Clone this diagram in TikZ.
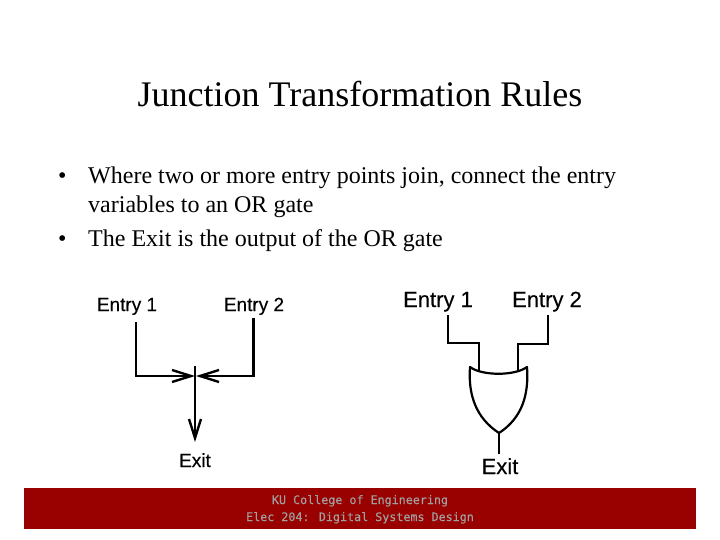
\documentclass[tikz,border=0pt]{standalone}
\usepackage{fontspec}
\setmainfont{Liberation Serif}
\setsansfont{Liberation Sans}
\newfontfamily\bannerfont[FakeBold=0.2]{DejaVu Sans Mono}
\newfontfamily\labelfont[FakeBold=0.25]{Liberation Sans}
\usetikzlibrary{arrows.meta}
\definecolor{kured}{HTML}{990000}
\definecolor{kugray}{HTML}{A0A0A0}
\tikzset{
  x=1pt,y=-1pt,
  bodytext/.style={anchor=base west,inner sep=0pt,font=\fontsize{24}{24}\selectfont},
  bullettext/.style={anchor=base west,inner sep=0pt,font=\fontsize{24}{24}\selectfont},
  smalllabel/.style={anchor=base,inner sep=0pt,font=\labelfont\fontsize{19}{19}\selectfont},
  biglabel/.style={anchor=base,inner sep=0pt,font=\labelfont\fontsize{22}{22}\selectfont},
  wireA/.style={line width=2.4pt,line join=miter},
  wireB/.style={line width=2.2pt},
  openarrow/.style={-{Straight Barb[length=19pt,width=12pt,line width=2.4pt]}},
  bannertext/.style={anchor=base,inner sep=0pt,text=kugray,font=\bannerfont\fontsize{11.7}{11.7}\selectfont}
}
\begin{document}
\begin{tikzpicture}
\useasboundingbox (0,0) rectangle (720,540);
\fill[white] (0,0) rectangle (720,540);
\node[anchor=base,inner sep=0pt,font=\fontsize{36}{36}\selectfont] (title) at (360,106.5) {Junction Transformation Rules};
\node[bullettext] (b1) at (58,183.5) {•};
\node[bodytext] (t1) at (88,183.5) {Where two or more entry points join, connect the entry};
\node[bodytext] (t2) at (88,212.5) {variables to an OR gate};
\node[bullettext] (b2) at (58,246.5) {•};
\node[bodytext] (t3) at (88,246.5) {The Exit is the output of the OR gate};
% left diagram
\node[smalllabel] (le1) at (127,311) {Entry 1};
\node[smalllabel] (le2) at (254,311) {Entry 2};
\node[smalllabel] (lex) at (195,467) {Exit};
\coordinate (l1top) at (136,322);
\coordinate (l1bend) at (136,376);
\coordinate (l2top) at (253.5,318);
\coordinate (l2bend) at (253.5,376);
\coordinate (lIn1) at (195,376);
\coordinate (lIn2) at (196,376);
\coordinate (ltop) at (195,366);
\coordinate (lbot) at (195,442);
\draw[wireA,openarrow] (l1top) -- (l1bend) -- (lIn1);
\draw[wireA,openarrow] (l2top) -- (l2bend) -- (lIn2);
\draw[wireA,openarrow] (ltop) -- (lbot);
% right diagram
\node[biglabel] (re1) at (438,307) {Entry 1};
\node[biglabel] (re2) at (547,307) {Entry 2};
\node[biglabel] (rex) at (500,474) {Exit};
\coordinate (gL) at (470,367);
\coordinate (gR) at (527,367);
\coordinate (gB) at (499,433);
\coordinate (i1) at (479,370.5);
\coordinate (i2) at (518,370.5);
\coordinate (r1top) at (448,315);
\coordinate (r2top) at (548,315);
\coordinate (rout) at (499,454);
\draw[wireB] (r1top) |- (479,343) -- (i1);
\draw[wireB] (r2top) |- (518,344) -- (i2);
\draw[wireB,line join=round] (gL) .. controls (482,376) and (515,376) .. (gR)
  .. controls (529,395) and (522,418) .. (gB)
  .. controls (476,418) and (468,395) .. (gL) -- cycle;
\draw[wireB] (gB) -- (rout);
% banner
\fill[kured] (24,488) rectangle (696,529);
\node[bannertext] (f1) at (360,504) {KU College of Engineering};
\node[bannertext] (f2) at (360,521) {Elec 204: Digital Systems Design};
\end{tikzpicture}
\end{document}
